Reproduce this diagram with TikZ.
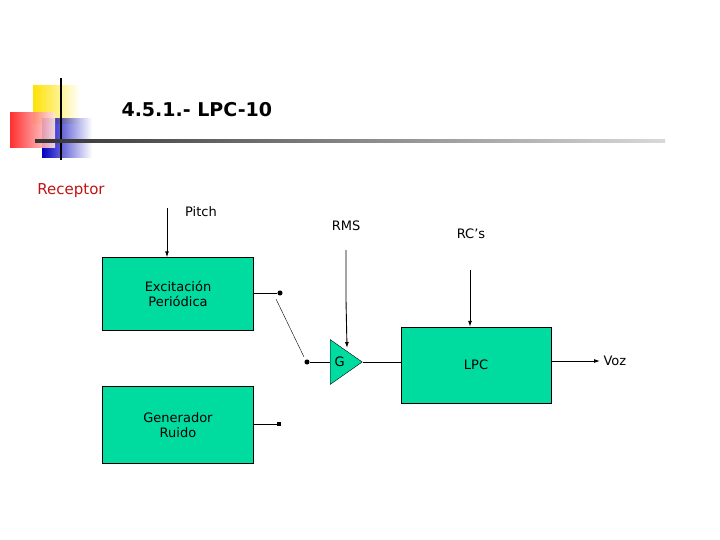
\documentclass[tikz,border=0pt]{standalone}
\usepackage{fontspec}
\setmainfont{DejaVu Sans}
\usetikzlibrary{shapes.geometric,arrows.meta,fadings}
\definecolor{boxgreen}{RGB}{0,220,160}
\definecolor{recred}{RGB}{190,20,20}

\begin{document}
\begin{tikzpicture}[x=1pt,y=-1pt,
    block/.style={draw, fill=boxgreen, minimum width=151pt, minimum height=73pt, align=center, font=\fontsize{13}{15}\selectfont},
    lbl/.style={font=\fontsize{13}{15}\selectfont},
    sig/.style={-{Latex[length=6pt,width=4pt]}, line width=0.9pt},
    pin/.style={circle, fill, inner sep=1.8pt}]
    \useasboundingbox (0,0) rectangle (720,540);

    % title decoration
    \fill[yellow!85!orange, path fading=east] (33,85) rectangle (80,124);
    \fill[blue!75!black, path fading=east] (42,118) rectangle (92,158);
    \shade[left color=red!90, right color=red!10, opacity=0.9] (10,113) rectangle (55,148);
    \draw[line width=1.5pt] (61,78) -- (61,160);
    \shade[left color=black!80, right color=black!15] (35,140) rectangle (665,142.5);
    \node[font=\bfseries\fontsize{19}{22}\selectfont, anchor=west] (title) at (118,110) {4.5.1.- LPC-10};
    \node[lbl, text=recred, font=\fontsize{15}{18}\selectfont] (rec) at (71,191) {Receptor};

    % blocks
    \node[block] (exc) at (178,294) {Excitación\\Periódica};
    \node[block, minimum height=77pt] (ruido) at (178,425) {Generador\\Ruido};
    \node[block, minimum width=150pt, minimum height=76pt] (lpc) at (476,365) {LPC};
    \node[draw, fill=boxgreen, isosceles triangle, isosceles triangle apex angle=70,
          minimum height=32pt, inner sep=0pt, anchor=west] (amp) at (330,362) {};
    \node[lbl, anchor=west] (g) at (331,362) {G};

    % labels
    \node[lbl] (pitch) at (201,212) {Pitch};
    \node[lbl] (rms) at (346,226) {RMS};
    \node[lbl] (rcs) at (471,234) {RC’s};
    \node[lbl, anchor=west] (voz) at (600,361) {Voz};

    % switch contacts
    \node[pin] (p1) at (280,293) {};
    \node[pin] (p2) at (307,362) {};
    \node[rectangle, fill, inner sep=1.8pt] (p3) at (279,424) {};
    \coordinate (pitchtop) at (167,208);
    \coordinate (rmstop) at (346,250);
    \coordinate (rctop) at (470,270);

    % connectors
    \draw[sig] (pitchtop) -- (pitchtop |- exc.north);
    \draw[sig] (rmstop) -- (346,300) -- (347,348);
    \draw[sig] (rctop) -- (rctop |- lpc.north);
    \draw[line width=0.9pt] (exc.east |- p1) -- (p1);
    \draw[line width=0.9pt] (ruido.east |- p3) -- (p3);
    \draw[line width=0.9pt] (p2) -- (amp.west);
    \draw[thin] (276,299) -- (304,357);
    \draw[line width=0.9pt] (amp.apex) -- (lpc.west |- amp.apex);
    \draw[sig] (lpc.east |- voz) -- (voz.west);
\end{tikzpicture}
\end{document}
